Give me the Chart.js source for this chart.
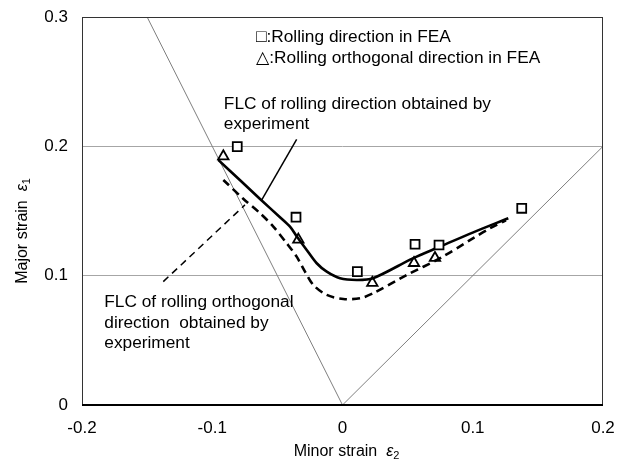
<!DOCTYPE html>
<html>
<head>
<meta charset="utf-8">
<script src="https://cdn.jsdelivr.net/npm/chart.js@4.4.0/dist/chart.umd.min.js"></script>
<style>
  html, body { margin: 0; padding: 0; background: #fff; }
</style>
</head>
<body>
<canvas id="flc" width="626" height="459"></canvas>
<script>
// ticks
const xTicks = [-0.2, -0.1, 0, 0.1, 0.2];
const xTickLabels = ['-0.2', '-0.1', '0', '0.1', '0.2'];
const yTicks = [0, 0.1, 0.2, 0.3];
const yTickLabels = ['0', '0.1', '0.2', '0.3'];

// FLC, rolling direction (experiment)
const flcRollX = [-0.0954, -0.078, -0.0633, -0.048, -0.0403, -0.0352, -0.0275, -0.0198, -0.0121, -0.0019, 0.0109, 0.0234, 0.054, 0.0749, 0.1004, 0.1273];
const flcRollY = [0.1895, 0.1732, 0.1593, 0.1452, 0.1379, 0.1305, 0.1199, 0.1096, 0.1031, 0.098, 0.0967, 0.098, 0.1134, 0.1225, 0.1335, 0.1444];

// FLC, rolling orthogonal direction (experiment)
const flcOrthX = [-0.0915, -0.0762, -0.0633, -0.0531, -0.0428, -0.0352, -0.0288, -0.0224, -0.0121, 0.0006, 0.0134, 0.0237, 0.0493, 0.0749, 0.1004, 0.1132, 0.1255];
const flcOrthY = [0.174, 0.1595, 0.1483, 0.1379, 0.125, 0.1147, 0.1031, 0.0928, 0.0851, 0.082, 0.0825, 0.0865, 0.1005, 0.1135, 0.129, 0.1366, 0.1428];

// FEA results
const feaRollX = [-0.0808, -0.0357, 0.0114, 0.0557, 0.0741, 0.1376];
const feaRollY = [0.1998, 0.1452, 0.1031, 0.1243, 0.1237, 0.1521];
const feaOrthX = [-0.0915, -0.0339, 0.0229, 0.0549, 0.071];
const feaOrthY = [0.1923, 0.1279, 0.0944, 0.1098, 0.1137];

// uniaxial / equibiaxial reference lines
const refX = [-0.15, 0, 0.2];
const refY = [0.3, 0, 0.2];

// leader lines of the notes
const leadRollX = [-0.0352, -0.062];
const leadRollY = [0.2053, 0.1586];
const leadOrthX = [-0.1376, -0.0749];
const leadOrthY = [0.0954, 0.1547];

const pts = (xs, ys) => xs.map((x, i) => ({ x: x, y: ys[i] }));

const FONT = '"Liberation Sans", Arial, "DejaVu Sans", sans-serif';

// notes in data coordinates (first baseline)
const notes = [
  { x: -0.0664, y: 0.2810, step: 21.6, lines: ['\u25A1:Rolling direction in FEA', '\u25B3:Rolling orthogonal direction in FEA'] },
  { x: -0.0911, y: 0.2287, step: 20, lines: ['FLC of rolling direction obtained by', 'experiment'] },
  { x: -0.1829, y: 0.0760, step: 20.8, lines: ['FLC of rolling orthogonal', 'direction  obtained by', 'experiment'] }
];

const boxPlugin = {
  id: 'box',
  afterDatasetsDraw(chart) {
    const a = chart.chartArea, c = chart.ctx;
    c.save();
    c.strokeStyle = '#333';
    c.lineWidth = 1;
    c.strokeRect(a.left + 0.5, a.top + 0.5, a.right - a.left - 1, a.bottom - a.top);
    c.strokeStyle = '#000';
    c.lineWidth = 2;
    c.beginPath();
    c.moveTo(a.left, a.bottom);
    c.lineTo(a.right, a.bottom);
    c.stroke();
    c.restore();
  }
};

function drawTitle(c, parts) {
  let w = 0;
  parts.forEach(p => { c.font = p.font; w += c.measureText(p.t).width; });
  let x = -w / 2;
  parts.forEach(p => {
    c.font = p.font;
    c.fillText(p.t, x, p.dy || 0);
    x += c.measureText(p.t).width;
  });
}

const textPlugin = {
  id: 'texts',
  afterDraw(chart) {
    const c = chart.ctx, xs = chart.scales.x, ys = chart.scales.y, a = chart.chartArea;
    c.save();
    c.fillStyle = '#000';
    c.textBaseline = 'alphabetic';
    c.textAlign = 'left';
    c.font = '17.3px ' + FONT;
    notes.forEach(n => {
      const px = xs.getPixelForValue(n.x), py = ys.getPixelForValue(n.y);
      n.lines.forEach((l, i) => c.fillText(l, px, py + i * n.step));
    });

    // x title
    c.save();
    c.translate((a.left + a.right) / 2 + 4, 456);
    drawTitle(c, [
      { t: 'Minor strain  ', font: '16px ' + FONT },
      { t: '\u03B5', font: 'italic 16px ' + FONT },
      { t: '2', font: '11px ' + FONT, dy: 3 }
    ]);
    c.restore();

    // y title
    c.save();
    c.translate(27, (a.top + a.bottom) / 2 + 20);
    c.rotate(-Math.PI / 2);
    drawTitle(c, [
      { t: 'Major strain  ', font: '16px ' + FONT },
      { t: '\u03B5', font: 'italic 16px ' + FONT },
      { t: '1', font: '11px ' + FONT, dy: 3 }
    ]);
    c.restore();
    c.restore();
  }
};

new Chart(document.getElementById('flc'), {
  type: 'scatter',
  data: {
    datasets: [
      { data: pts(refX, refY), showLine: true, borderColor: '#7f7f7f', borderWidth: 1, pointRadius: 0, order: 10 },
      { data: pts(flcRollX, flcRollY), showLine: true, borderColor: '#000', borderWidth: 2.6, pointRadius: 0, tension: 0.3, order: 5 },
      { data: pts(flcOrthX, flcOrthY), showLine: true, borderColor: '#000', borderWidth: 2.6, borderDash: [8, 5], pointRadius: 0, tension: 0.3, order: 6 },
      { data: pts(leadRollX, leadRollY), showLine: true, borderColor: '#000', borderWidth: 1.5, pointRadius: 0, order: 7 },
      { data: pts(leadOrthX, leadOrthY), showLine: true, borderColor: '#000', borderWidth: 1.5, borderDash: [7, 5], pointRadius: 0, order: 8 },
      { data: pts(feaRollX, feaRollY), pointStyle: 'rect', pointRadius: 6.3, pointBorderWidth: 1.8, pointBorderColor: '#000', pointBackgroundColor: '#fff', order: 1 },
      { data: pts(feaOrthX, feaOrthY), pointStyle: 'triangle', pointRadius: 6, pointBorderWidth: 1.8, pointBorderColor: '#000', pointBackgroundColor: 'rgba(255,255,255,0)', order: 2 }
    ]
  },
  options: {
    responsive: false,
    animation: false,
    layout: { padding: { top: 17, right: 23, left: 0, bottom: 0 } },
    plugins: { legend: { display: false }, tooltip: { enabled: false } },
    scales: {
      x: {
        type: 'linear',
        min: -0.2, max: 0.2,
        afterBuildTicks: s => { s.ticks = xTicks.map(v => ({ value: v })); },
        afterFit: s => { s.height = 54; s.paddingLeft = 0; s.paddingRight = 0; },
        ticks: { callback: (v, i) => xTickLabels[i], color: '#000', padding: 13, maxRotation: 0, font: { family: FONT, size: 17 } },
        grid: { display: false, drawTicks: false },
        border: { display: false }
      },
      y: {
        type: 'linear',
        min: 0, max: 0.3,
        afterBuildTicks: s => { s.ticks = yTicks.map(v => ({ value: v })); },
        afterFit: s => { s.width = 82; s.paddingTop = 0; s.paddingBottom = 0; },
        ticks: { callback: (v, i) => yTickLabels[i], color: '#000', padding: 14, font: { family: FONT, size: 17 } },
        grid: { color: ctx => (ctx.tick && (ctx.tick.value === 0.1 || ctx.tick.value === 0.2)) ? '#a6a6a6' : 'rgba(0,0,0,0)', lineWidth: 1, drawTicks: false },
        border: { display: false }
      }
    }
  },
  plugins: [boxPlugin, textPlugin]
});
</script>
</body>
</html>
